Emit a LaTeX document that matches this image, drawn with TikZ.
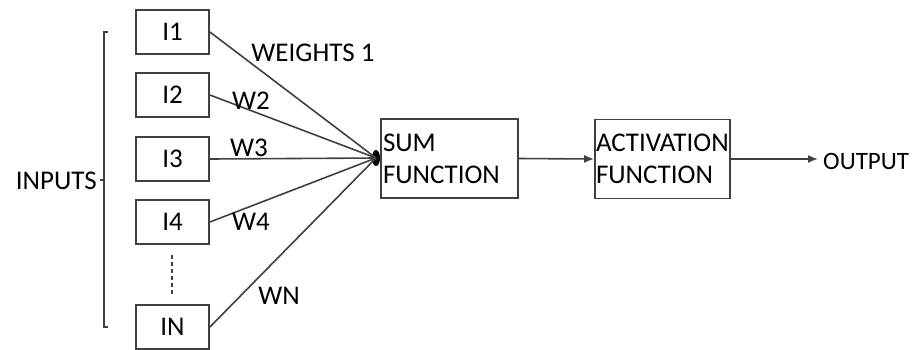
\documentclass[tikz,border=0pt]{standalone}
\usepackage{fontspec}
\setmainfont{Carlito}
\usetikzlibrary{arrows.meta}
\definecolor{ln}{HTML}{404040}
\tikzset{
  inbox/.style={draw=ln, line width=1.8pt, minimum width=73pt, minimum height=44pt, inner sep=0pt, font=\fontsize{27}{30}\selectfont},
  fbox/.style={draw=ln, line width=1.8pt, minimum height=79pt, inner sep=0pt, align=left, font=\fontsize{27}{32}\selectfont},
  conn/.style={draw=ln, line width=1.6pt},
  arr/.style={conn, -{Latex[length=10pt,width=8pt]}},
  lbl/.style={inner sep=0pt, font=\fontsize{27}{30}\selectfont}
}
\begin{document}
\begin{tikzpicture}[x=1pt,y=-1pt]
\useasboundingbox (0,0) rectangle (916,349);
% input boxes
\node[inbox] (i1) at (172.5,32) {I1};
\node[inbox] (i2) at (172.5,95) {I2};
\node[inbox] (i3) at (172.5,159) {I3};
\node[inbox] (i4) at (172.5,222) {I4};
\node[inbox] (in) at (172.5,327) {IN};
% dashed continuation
\coordinate (d1) at (172,255);
\coordinate (d2) at (172,296);
\draw[conn, dash pattern=on 4pt off 3pt] (d1) -- (d2);
% bracket
\coordinate (bt) at (104,32);
\coordinate (bb) at (104,327);
\coordinate (bm) at (104,180);
\draw[conn] ([xshift=4pt]bt) -- (bt) -- (bb) -- ([xshift=4pt]bb);
\draw[conn] (bm) -- ([xshift=-4pt]bm);
\node[lbl, anchor=east] (inputs) at (97,181) {INPUTS};
% convergence point
\coordinate (c) at (376,158);
\fill[black] (c) ellipse [x radius=4pt, y radius=8pt];
\draw[conn] (i1.east) -- (c);
\draw[conn] (i2.east) -- (c);
\draw[conn] (i3.east) -- (c);
\draw[conn] (i4.east) -- (c);
\draw[conn] (in.east) -- (c);
% weight labels
\node[lbl] (w1) at (313,53) {WEIGHTS 1};
\node[lbl] (w2) at (251,101) {W2};
\node[lbl] (w3) at (249,148) {W3};
\node[lbl] (w4) at (251,222) {W4};
\node[lbl] (wn) at (279,296) {WN};
% function boxes
\node[fbox, minimum width=137pt, text width=133pt] (sum) at (449.5,158.5) {SUM\\FUNCTION};
\node[fbox, minimum width=135pt, text width=133pt] (act) at (662.5,159) {ACTIVATION\\FUNCTION};
\draw[arr] (sum.east) -- (act.west);
\coordinate (oe) at (818,159);
\draw[arr] (act.east) -- (oe);
\node[lbl, anchor=west, font=\fontsize{25}{30}\selectfont] (out) at (823,161) {OUTPUT};
\end{tikzpicture}
\end{document}
